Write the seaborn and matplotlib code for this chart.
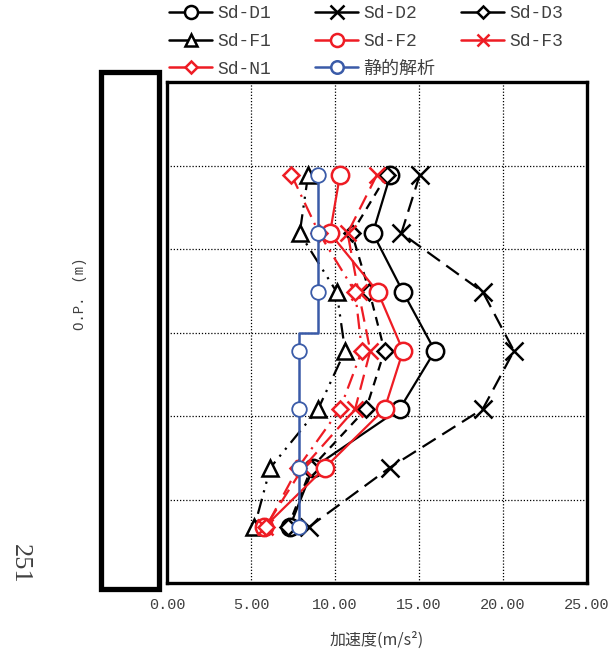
import matplotlib
matplotlib.use("Agg")
import matplotlib.pyplot as plt
from matplotlib.patches import Rectangle
from matplotlib.lines import Line2D
import seaborn as sns
import pandas as pd

# ---- data ----
levels = [48.9, 41.9, 34.85, 27.8, 20.85, 13.8, 6.7]   # O.P. positions (hidden scale)
sd_d1 = [13.3, 12.25, 14.05, 15.95, 13.85, 8.7, 7.3]
sd_d2 = [15.05, 13.95, 18.8, 20.65, 18.8, 13.25, 8.45]
sd_d3 = [13.1, 11.0, 12.05, 12.95, 11.85, 8.6, 7.2]
sd_f1 = [8.4, 7.9, 10.1, 10.6, 9.0, 6.15, 5.2]
sd_f2 = [10.3, 9.7, 12.55, 14.05, 12.95, 9.4, 5.8]
sd_f3 = [12.5, 10.75, 11.4, 12.1, 11.2, 8.1, 5.85]
sd_n1 = [7.4, 9.05, 11.2, 11.6, 10.3, 7.8, 5.9]
static_x = [9.0, 9.0, 9.0, 7.85, 7.85, 7.85, 7.85]
static_step_x = [9.0, 9.0, 7.85, 7.85]
static_step_y = [48.9, 30.0, 30.0, 6.7]
x_ticks = [0, 5, 10, 15, 20, 25]
x_ticklabels = ["0.00", "5.00", "10.00", "15.00", "20.00", "25.00"]
y_ticks = [0, 10, 20, 30, 40, 50, 60]
series_names = ["Sd-D1", "Sd-D2", "Sd-D3", "Sd-F1", "Sd-F2", "Sd-F3", "Sd-N1"]
static_name = "静的解析"

sns.set_style("white")
plt.rcParams['font.family'] = ['Liberation Mono', 'Noto Sans CJK JP', 'DejaVu Sans']
TXT = '#404040'

fig = plt.figure(figsize=(6.16, 6.53), dpi=100)
ax = fig.add_axes([167/616, 1-583/653, 420/616, 501/653])

RED = '#ee1c24'
styles = {
    "Sd-D1": dict(color='black', marker='o', ls='-', ms=12.5),
    "Sd-D2": dict(color='black', marker='x', ls=(0, (7, 3.5)), ms=13),
    "Sd-D3": dict(color='black', marker='D', ls=(0, (4, 3)), ms=8),
    "Sd-F1": dict(color='black', marker='^', ls=(0, (7, 3, 1, 3, 1, 3)), ms=11),
    "Sd-F2": dict(color=RED, marker='o', ls='-', ms=12.5),
    "Sd-F3": dict(color=RED, marker='x', ls=(0, (7, 3.5)), ms=12),
    "Sd-N1": dict(color=RED, marker='D', ls=(0, (7, 3, 1, 3)), ms=8),
}
values = [sd_d1, sd_d2, sd_d3, sd_f1, sd_f2, sd_f3, sd_n1]
handles = {}
for name, vals in zip(series_names, values):
    st = styles[name]
    df = pd.DataFrame({"acc": vals, "op": levels})
    sns.lineplot(data=df, x="acc", y="op", sort=False, estimator=None, ax=ax,
                 color=st['color'], linestyle=st['ls'], linewidth=1.6,
                 marker=st['marker'], markersize=st['ms'],
                 markerfacecolor='white', markeredgecolor=st['color'],
                 markeredgewidth=1.8, legend=False)
    handles[name] = Line2D([], [], color=st['color'], linewidth=1.8,
                           marker=st['marker'], markersize=st['ms'] * 0.75,
                           markerfacecolor='white', markeredgecolor=st['color'],
                           markeredgewidth=1.8, linestyle='-')

blue = '#3a5ba8'
dstep = pd.DataFrame({"acc": static_step_x, "op": static_step_y})
sns.lineplot(data=dstep, x="acc", y="op", sort=False, estimator=None, ax=ax,
             color=blue, linewidth=1.8, legend=False)
dst = pd.DataFrame({"acc": static_x, "op": levels})
sns.lineplot(data=dst, x="acc", y="op", sort=False, estimator=None, ax=ax,
             color=blue, linewidth=0, marker='o', markersize=10.5,
             markerfacecolor='white', markeredgecolor=blue, markeredgewidth=1.3,
             legend=False)
handles[static_name] = Line2D([], [], color=blue, linewidth=1.8, marker='o',
                              markersize=9, markerfacecolor='white',
                              markeredgecolor=blue, markeredgewidth=1.8)

ax.set_xlim(0, 25)
ax.set_ylim(0, 60)
ax.set_xticks(x_ticks)
ax.set_xticklabels(x_ticklabels, fontsize=11, color=TXT)
ax.set_yticks(y_ticks)
ax.set_yticklabels([])
ax.tick_params(axis='both', direction='in', length=4, width=1.5, color='black', pad=11)
ax.grid(True, color='black', linestyle=(0, (1, 1.5)), linewidth=0.9)
for sp in ax.spines.values():
    sp.set_visible(True)
    sp.set_color('black')
    sp.set_linewidth(2.4)
ax.set_xlabel("加速度(m/s²)", fontsize=11.5, color=TXT, labelpad=14,
              family=['Noto Sans CJK JP'])
ax.set_ylabel("")

columns = [["Sd-D1", "Sd-F1", "Sd-N1"],
           ["Sd-D2", "Sd-F2", static_name],
           ["Sd-D3", "Sd-F3"]]
col_x = [169, 315, 461]
for cx, items in zip(col_x, columns):
    leg = fig.legend([handles[k] for k in items], items, loc='upper left',
                     bbox_to_anchor=(cx/616, 1.0 - 5/653), ncol=1, frameon=False,
                     fontsize=13, handlelength=2.4, handletextpad=0.3,
                     labelspacing=0.6, labelcolor=TXT, borderpad=0,
                     borderaxespad=0)

fig.patches.append(Rectangle((101/616, 1-589/653), 58/616, 517/653,
                             transform=fig.transFigure, fill=False,
                             edgecolor='black', linewidth=3.8))
fig.text(80/616, 1-294/653, "O.P.　(m)", rotation=90, ha='center', va='center',
         fontsize=10, color=TXT)
fig.text(20/616, 1-564/653, "251", rotation=-90, ha='center', va='center',
         fontsize=19, color=TXT, family=['Liberation Serif'])

fig.savefig("out.png", dpi=100)
